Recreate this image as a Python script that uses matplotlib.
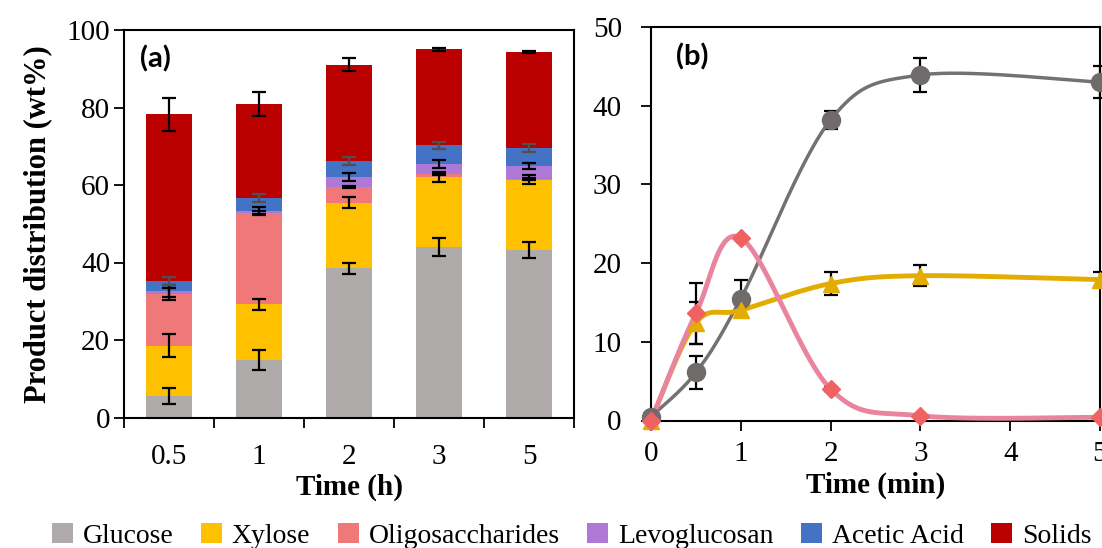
import numpy as np
import matplotlib
matplotlib.use('Agg')
import matplotlib.pyplot as plt
from matplotlib.patches import Patch

plt.rcParams['font.family'] = ['Liberation Serif', 'DejaVu Serif']

# ---- panel (a) data: stacked product distribution (wt%)
times_h = ['0.5', '1', '2', '3', '5']
glucose = [5.6, 14.9, 38.5, 43.9, 43.3]
xylose = [12.9, 14.3, 16.9, 18.2, 18.1]
oligo = [13.4, 23.5, 4.1, 0.7, 0.2]
levo = [0.7, 0.6, 2.6, 2.6, 3.3]
acetic = [2.6, 3.4, 4.1, 4.8, 4.6]
solids = [43.0, 24.1, 24.8, 24.8, 24.8]

glucose_err = [2.0, 2.6, 1.4, 2.3, 2.1]
xylose_err = [3.0, 1.4, 1.4, 1.2, 1.1]
oligo_err = [1.6, 0.5, 0.3, 0.3, 0.2]
levo_err = [1.5, 0.9, 1.0, 1.1, 0.7]
acetic_err = [1.1, 1.1, 1.1, 1.0, 1.0]
solids_err = [4.3, 3.1, 1.7, 0.4, 0.35]

names = ['Glucose', 'Xylose', 'Oligosaccharides', 'Levoglucosan', 'Acetic Acid', 'Solids']
colors = ['#AFABAB', '#FFC000', '#F07878', '#AE78D6', '#4472C4', '#BB0000']

# ---- panel (b) data: yields vs time (min)
t_min = [0, 0.5, 1, 2, 3, 5]
glu_b = [0.5, 6.1, 15.5, 38.2, 43.9, 43.0]
xyl_b = [0.0, 12.4, 14.0, 17.4, 18.4, 17.9]
oli_b = [0.0, 13.6, 23.2, 4.0, 0.6, 0.4]
glu_b_err = [0, 2.1, 2.3, 1.1, 2.2, 2.0]
xyl_b_err = [0, 2.7, 0.9, 1.5, 1.3, 1.0]
oli_b_err = [0, 3.9, 0.3, 0.2, 0.1, 0.1]


def smooth(x, y, n=40):
    # Catmull-Rom style bezier, like Excel "smoothed line"
    x = np.asarray(x, float)
    y = np.asarray(y, float)
    P = np.column_stack([x, y])
    out = []
    for i in range(len(P) - 1):
        p0 = P[i - 1] if i > 0 else P[i]
        p1 = P[i]
        p2 = P[i + 1]
        p3 = P[i + 2] if i + 2 < len(P) else P[i + 1]
        c1 = p1 + (p2 - p0) / 6
        c2 = p2 - (p3 - p1) / 6
        t = np.linspace(0, 1, n)[:, None]
        seg = (1 - t) ** 3 * p1 + 3 * (1 - t) ** 2 * t * c1 + 3 * (1 - t) * t ** 2 * c2 + t ** 3 * p2
        out.append(seg if i == 0 else seg[1:])
    s = np.vstack(out)
    return s[:, 0], s[:, 1]


fig = plt.figure(figsize=(11.02, 5.48), dpi=100)
W, H = 1102, 548
ax1 = fig.add_axes([124 / W, (H - 417.5) / H, 450 / W, 387.5 / H])
ax2 = fig.add_axes([651 / W, (H - 420.5) / H, 449 / W, 393.5 / H])

# ---- (a)
xpos = np.arange(len(times_h))
parts = [glucose, xylose, oligo, levo, acetic, solids]
errs = [glucose_err, xylose_err, oligo_err, levo_err, acetic_err, solids_err]
bottom = np.zeros(len(times_h))
for vals, err, col, nm in zip(parts, errs, colors, names):
    ax1.bar(xpos, vals, 0.52, bottom=bottom, color=col, zorder=2)
    top = bottom + np.array(vals)
    ecol = '#505050' if nm == 'Acetic Acid' else 'black'
    ax1.errorbar(xpos, top, yerr=err, fmt='none', ecolor=ecol, elinewidth=1.6,
                 capsize=5, capthick=1.6, zorder=3)
    bottom = top

ax1.set_xlim(-0.5, 4.5)
ax1.set_ylim(0, 100)
ax1.set_yticks(range(0, 101, 20))
ax1.set_xticks(np.arange(-0.5, 5, 1))
ax1.set_xticklabels([])
ax1.set_xticks(xpos, minor=True)
ax1.set_xticklabels(times_h, minor=True)
ax1.tick_params(axis='x', which='minor', length=0, pad=19, labelsize=21)
ax1.tick_params(axis='x', which='major', length=7, width=1.3, direction='out')
ax1.tick_params(axis='y', length=7, width=1.3, direction='out', pad=3, labelsize=21)
ax1.tick_params(right=False, top=False)
ax1.set_ylabel('Product distribution (wt%)', fontsize=22, fontweight='bold', labelpad=10)
ax1.set_xlabel('Time (h)', fontsize=21, fontweight='bold', labelpad=3)
ax1.text(0.035, 0.925, '(a)', transform=ax1.transAxes, fontsize=21, fontweight='bold',
         family=['Lato', 'DejaVu Sans'], va='center', ha='left')

# ---- (b)
series = [
    (glu_b, glu_b_err, '#767171', '#6F6B6B', 'o', 13, 2.5),
    (xyl_b, xyl_b_err, '#E3AC00', '#E3AC00', '^', 12, 3.5),
    (oli_b, oli_b_err, '#E8849E', '#F06262', 'D', 9, 3.5),
]
for y, e, lc, mc, mk, ms, lw in series:
    ax2.errorbar(t_min, y, yerr=e, fmt='none', ecolor='black', elinewidth=1.6,
                 capsize=5, capthick=1.6, zorder=2, clip_on=False)
    sx, sy = smooth(t_min, y)
    ax2.plot(sx, sy, color=lc, lw=lw, zorder=3, clip_on=False, solid_capstyle='round')
    ax2.plot(t_min, y, ls='none', marker=mk, ms=ms, color=mc, mec=mc, zorder=4, clip_on=False)

ax2.set_xlim(0, 5)
ax2.set_ylim(0, 50)
ax2.set_xticks(range(0, 6))
ax2.set_yticks(range(0, 51, 10))
ax2.tick_params(axis='x', length=7, width=1.3, direction='out', pad=8, labelsize=21)
ax2.tick_params(axis='y', length=7, width=1.3, direction='out', pad=14, labelsize=21)
ax2.set_xlabel('Time (min)', fontsize=21, fontweight='bold', labelpad=3)
ax2.text(0.055, 0.925, '(b)', transform=ax2.transAxes, fontsize=21, fontweight='bold',
         family=['Lato', 'DejaVu Sans'], va='center', ha='left')

for ax in (ax1, ax2):
    for sp in ax.spines.values():
        sp.set_linewidth(1.5)

handles = [Patch(facecolor=c, edgecolor='none') for c in colors]
fig.legend(handles, names, loc='center left', bbox_to_anchor=(52 / W, (H - 536) / H),
           ncol=6, frameon=False, fontsize=20, handlelength=0.75, handleheight=0.7,
           handletextpad=0.35, columnspacing=1.0, borderpad=0, borderaxespad=0)

fig.savefig('out.png', dpi=100)
